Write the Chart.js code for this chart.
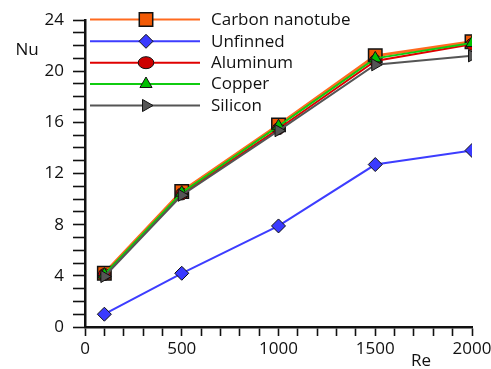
<!DOCTYPE html>
<html>
<head>
<meta charset="utf-8">
<script src="https://cdn.jsdelivr.net/npm/chart.js@4/dist/chart.umd.min.js"></script>
<style>
  html, body { margin: 0; padding: 0; background: #ffffff; }
  #wrap { width: 491px; height: 369px; }
</style>
</head>
<body>
<div id="wrap"><canvas id="nuChart" width="491" height="369"></canvas></div>
<script>
// Reynolds numbers along the x axis
const reynolds = [100, 500, 1000, 1500, 2000];

// Nusselt number for each heat-sink configuration
const nuCarbon   = [4.2, 10.6, 15.8, 21.2, 22.3];
const nuUnfinned = [1.0, 4.2, 7.9, 12.7, 13.8];
const nuAluminum = [4.1, 10.4, 15.5, 20.8, 22.1];
const nuCopper   = [4.1, 10.5, 15.7, 21.0, 22.2];
const nuSilicon  = [3.95, 10.3, 15.35, 20.5, 21.2];

const seriesNames = ['Carbon nanotube', 'Unfinned', 'Aluminum', 'Copper', 'Silicon'];

// Axis ranges and labelled ticks
const xMin = 0, xMax = 2000, xMinorStep = 100, xMajorStep = 500;
const yMin = 0, yMax = 24, yMinorStep = 1, yMajorStep = 4;

const FONT = '"Open Sans", "Noto Sans", sans-serif';
const FONT_SIZE = 17;

function toPoints(vals) {
  return reynolds.map((r, i) => ({ x: r, y: vals[i] }));
}

const datasets = [
  {
    label: seriesNames[0], data: toPoints(nuCarbon),
    borderColor: '#ff6a1f', backgroundColor: '#f25a05', borderWidth: 3,
    pointStyle: 'rect', pointRadius: 9.5, pointBorderColor: '#111', pointBorderWidth: 1.5,
    order: 4
  },
  {
    label: seriesNames[1], data: toPoints(nuUnfinned),
    borderColor: '#3d3dff', backgroundColor: '#3a3aff', borderWidth: 2,
    pointStyle: 'rectRot', pointRadius: 7, pointBorderColor: '#111', pointBorderWidth: 1,
    order: 5
  },
  {
    label: seriesNames[2], data: toPoints(nuAluminum),
    borderColor: '#e00000', backgroundColor: '#cc0000', borderWidth: 2,
    pointStyle: 'circle', pointRadius: 6, pointBorderColor: '#111', pointBorderWidth: 1,
    order: 3
  },
  {
    label: seriesNames[3], data: toPoints(nuCopper),
    borderColor: '#10cc10', backgroundColor: '#00c000', borderWidth: 2,
    pointStyle: 'triangle', pointRadius: 7, pointBorderColor: '#111', pointBorderWidth: 1,
    order: 2
  },
  {
    label: seriesNames[4], data: toPoints(nuSilicon),
    borderColor: '#555555', backgroundColor: '#555555', borderWidth: 2,
    pointStyle: 'triangle', pointRotation: 90, pointRadius: 7, pointBorderColor: '#111', pointBorderWidth: 1,
    order: 1
  }
];
datasets.forEach(d => {
  d.pointBackgroundColor = d.backgroundColor;
  d.tension = 0;
  d.fill = false;
});

// Legend drawn inside the plot: line sample, marker, name
const insideLegend = {
  id: 'insideLegend',
  afterDraw(chart) {
    const ctx = chart.ctx;
    const x0 = 90, x1 = 200, xm = 146, xt = 211;
    const rows = [19.5, 41.3, 62.7, 84, 105.5];
    ctx.save();
    chart.data.datasets.forEach((ds, i) => {
      const y = rows[i];
      ctx.beginPath();
      ctx.strokeStyle = ds.borderColor;
      ctx.lineWidth = 2;
      ctx.moveTo(x0, y);
      ctx.lineTo(x1, y);
      ctx.stroke();
      ctx.fillStyle = ds.backgroundColor;
      ctx.strokeStyle = '#111';
      ctx.lineWidth = ds.pointBorderWidth;
      if (ds.pointStyle === 'circle') {
        ctx.beginPath();
        ctx.ellipse(xm, y, 7.8, 6, 0, 0, Math.PI * 2);
        ctx.fill();
        ctx.stroke();
      } else {
        Chart.helpers.drawPoint(ctx, {
          pointStyle: ds.pointStyle,
          rotation: ds.pointRotation || 0,
          radius: ds.pointRadius,
          borderWidth: ds.pointBorderWidth
        }, xm, y);
      }
      ctx.fillStyle = '#111';
      ctx.font = FONT_SIZE + 'px ' + FONT;
      ctx.textAlign = 'left';
      ctx.textBaseline = 'middle';
      ctx.fillText(ds.label, xt, y + 0.5);
    });
    ctx.restore();
  }
};

// Axis names placed beside the axes
const axisNames = {
  id: 'axisNames',
  afterDraw(chart) {
    const ctx = chart.ctx;
    ctx.save();
    ctx.fillStyle = '#111';
    ctx.font = FONT_SIZE + 'px ' + FONT;
    ctx.textAlign = 'center';
    ctx.textBaseline = 'middle';
    ctx.fillText('Nu', 27, 50);
    ctx.fillText('Re', 421, 361);
    ctx.restore();
  }
};

new Chart(document.getElementById('nuChart'), {
  type: 'line',
  data: { datasets },
  options: {
    responsive: false,
    animation: false,
    events: [],
    layout: { padding: { left: 0, top: 20, right: 19, bottom: 0 } },
    plugins: { legend: { display: false }, tooltip: { enabled: false } },
    scales: {
      x: {
        type: 'linear', min: xMin, max: xMax,
        border: { display: true, color: '#111', width: 2.5 },
        grid: { display: true, drawOnChartArea: false, drawTicks: true, tickLength: 9, tickColor: '#111', tickWidth: 1.6 },
        ticks: {
          stepSize: xMinorStep, autoSkip: false, maxRotation: 0, padding: 3,
          color: '#111', font: { family: FONT, size: FONT_SIZE },
          callback: v => (v % xMajorStep === 0 ? String(v) : '')
        },
        afterFit(scale) {
          scale.height = 42;
          scale.paddingLeft = 0;
          scale.paddingRight = 0;
        }
      },
      y: {
        type: 'linear', min: yMin, max: yMax,
        border: { display: true, color: '#111', width: 2.5 },
        grid: { display: true, drawOnChartArea: false, drawTicks: true, tickLength: 12, tickColor: '#111', tickWidth: 1.6 },
        ticks: {
          stepSize: yMinorStep, autoSkip: false, padding: 9,
          color: '#111', font: { family: FONT, size: FONT_SIZE },
          callback: v => (v % yMajorStep === 0 ? String(v) : '')
        },
        afterFit(scale) {
          scale.width = 85;
          scale.paddingTop = 0;
          scale.paddingBottom = 0;
        }
      }
    }
  },
  plugins: [insideLegend, axisNames]
});
</script>
</body>
</html>
